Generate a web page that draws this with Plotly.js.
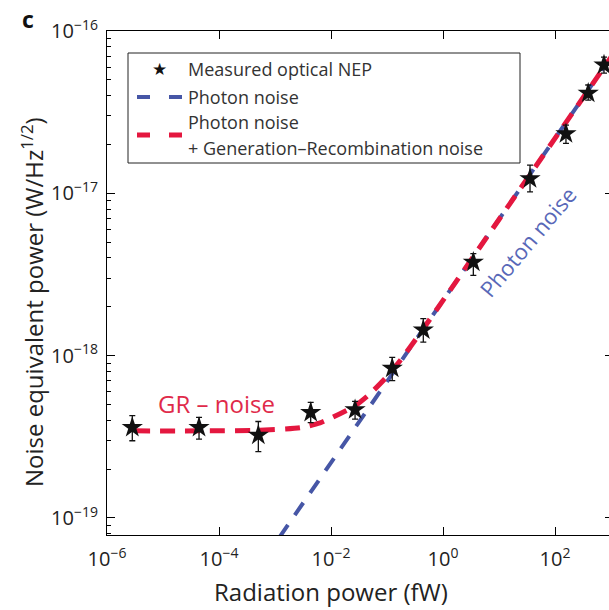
<!DOCTYPE html>
<html>
<head>
<meta charset="utf-8">
<script src="https://cdn.plot.ly/plotly-3.0.1.min.js"></script>
<style>
html,body{margin:0;padding:0;overflow:hidden;background:#fff;}
#chart{width:613px;height:610px;}
</style>
</head>
<body>
<div id="chart"></div>
<script>
// ---- data ----
const measuredPower = [2.83e-6, 4.40e-5, 5.04e-4, 4.34e-3, 2.69e-2, 0.124, 0.445, 3.48, 35.8, 157, 392, 750];
const measuredNEP   = [3.61e-19, 3.61e-19, 3.24e-19, 4.47e-19, 4.65e-19, 8.36e-19, 1.44e-18, 3.77e-18, 1.23e-17, 2.33e-17, 4.14e-17, 6.17e-17];
const nepUpper      = [4.27e-19, 4.16e-19, 3.93e-19, 5.15e-19, 5.22e-19, 9.77e-19, 1.69e-18, 4.25e-18, 1.49e-17, 2.63e-17, 4.65e-17, 6.90e-17];
const nepLower      = [2.99e-19, 3.06e-19, 2.56e-19, 3.87e-19, 4.06e-19, 7.02e-19, 1.21e-18, 3.12e-18, 1.02e-17, 2.03e-17, 3.75e-17, 5.50e-17];

const photonPower = [1.2e-3, 0.1, 10, 1000];
const photonNEP   = [7.6e-20, 6.9e-19, 6.9e-18, 6.9e-17];

const totalPower = [3.16e-6, 4.57e-5, 5.0e-4, 2.82e-3, 6.37e-3, 1.45e-2, 2.69e-2, 4.97e-2, 9.2e-2, 0.171, 0.388, 1.33, 10, 1000];
const totalNEP   = [3.44e-19, 3.44e-19, 3.47e-19, 3.60e-19, 3.85e-19, 4.39e-19, 4.91e-19, 5.82e-19, 7.21e-19, 9.31e-19, 1.37e-18, 2.52e-18, 6.9e-18, 6.9e-17];

const xTickVals = [1e-6, 1e-4, 1e-2, 1, 100];
const xTickText = ['10<sup>−6</sup>', '10<sup>−4</sup>', '10<sup>−2</sup>', '10<sup>0</sup>', '10<sup>2</sup>'];
const yTickVals = [1e-19, 1e-18, 1e-17, 1e-16];
const yTickText = ['10<sup>−19</sup>', '10<sup>−18</sup>', '10<sup>−17</sup>', '10<sup>−16</sup>'];

const legendLabels = ['Measured optical NEP', 'Photon noise', 'Photon noise', '+ Generation–Recombination noise'];
const xTitle = 'Radiation power (fW)';
const yTitle = 'Noise equivalent power (W/Hz<sup>1/2</sup>)';

// ---- styling ----
const RED = '#e4173f';
const BLUE = '#4656a6';
const FONT = 'Open Sans, Noto Sans, sans-serif';

const minorVals = [];
for (let d = -20; d <= -16; d++) for (let k = 2; k <= 9; k++) minorVals.push(k * Math.pow(10, d));

const errPlus = measuredNEP.map((v, i) => nepUpper[i] - v);
const errMinus = measuredNEP.map((v, i) => v - nepLower[i]);

// plot area in pixels
const L = 107, R = 613, T = 31, B = 535;
const px = x => (x - L) / (R - L);
const py = y => (B - y) / (B - T);

const traces = [
  {x: photonPower, y: photonNEP, mode: 'lines', type: 'scatter',
   line: {color: BLUE, width: 4, dash: '15px,12px'}, showlegend: false, hoverinfo: 'skip'},
  {x: totalPower, y: totalNEP, mode: 'lines', type: 'scatter',
   line: {color: RED, width: 5, dash: '15px,10px', shape: 'spline', smoothing: 0.6}, showlegend: false, hoverinfo: 'skip'},
  {x: measuredPower, y: measuredNEP, mode: 'markers', type: 'scatter',
   marker: {symbol: 'star', size: 16, color: '#111', line: {width: 0}},
   error_y: {type: 'data', symmetric: false, array: errPlus, arrayminus: errMinus, color: '#111', thickness: 1.3, width: 3},
   showlegend: false}
];

function ann(x, y, text, font, extra) {
  return Object.assign({xref: 'paper', yref: 'paper', x: px(x), y: py(y), showarrow: false, text: text,
    xanchor: 'center', yanchor: 'middle', font: font}, extra || {});
}

const legendText = legendLabels.map((t, i) =>
  ann(186, [69, 97, 122, 148][i], t, {family: FONT, size: 18, color: '#333'}, {xanchor: 'left'}));

const layout = {
  width: 613, height: 610,
  margin: {l: L, r: 0, t: T, b: 610 - B},
  paper_bgcolor: '#fff', plot_bgcolor: '#fff',
  showlegend: false,
  font: {family: FONT, color: '#222'},
  xaxis: {
    type: 'log', range: [-6, -6 + (R - L) / 56],
    tickmode: 'array', tickvals: xTickVals, ticktext: xTickText,
    ticks: 'inside', ticklen: 8, tickwidth: 1, tickcolor: '#000', ticklabelstandoff: 6,
    showline: true, linecolor: '#000', linewidth: 1, mirror: 'ticks',
    showgrid: false, zeroline: false,
    tickfont: {family: FONT, size: 20, color: '#222'}
  },
  yaxis: {
    type: 'log', range: [-19.105, -16],
    tickmode: 'array', tickvals: yTickVals, ticktext: yTickText,
    ticks: 'inside', ticklen: 8, tickwidth: 1, tickcolor: '#000', ticklabelstandoff: 4,
    minor: {tickmode: 'array', tickvals: minorVals, ticks: 'inside', ticklen: 4, tickcolor: '#000', showgrid: false},
    showline: true, linecolor: '#000', linewidth: 1, mirror: 'ticks',
    showgrid: false, zeroline: false,
    tickfont: {family: FONT, size: 20, color: '#222'}
  },
  shapes: [
    {type: 'rect', xref: 'paper', yref: 'paper', x0: px(128), x1: px(520), y0: py(53), y1: py(163),
     line: {color: '#222', width: 1}, fillcolor: '#fff', layer: 'above'},
    {type: 'line', xref: 'paper', yref: 'paper', x0: px(137), x1: px(182), y0: py(97), y1: py(97),
     line: {color: BLUE, width: 4, dash: '13px,19px'}},
    {type: 'line', xref: 'paper', yref: 'paper', x0: px(137), x1: px(182), y0: py(135), y1: py(135),
     line: {color: RED, width: 5, dash: '13px,19px'}}
  ],
  annotations: [
    ann(159, 69, '★', {family: 'DejaVu Sans', size: 17, color: '#111'}),
    ...legendText,
    ann(331, 591, xTitle, {family: FONT, size: 24, color: '#222'}),
    ann(32, 302, yTitle, {family: FONT, size: 24, color: '#222'}, {textangle: -90}),
    ann(28, 19, '<b>c</b>', {family: FONT, size: 23, color: '#111'}),
    ann(216, 403, 'GR – noise', {family: FONT, size: 24, color: '#e02a4a'}),
    ann(527, 242, 'Photon noise', {family: FONT, size: 22, color: '#5868b8'}, {textangle: -50})
  ]
};

Plotly.newPlot('chart', traces, layout, {staticPlot: true, displayModeBar: false});
</script>
</body>
</html>
